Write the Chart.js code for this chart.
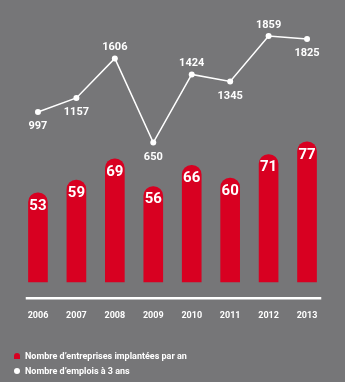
<!DOCTYPE html>
<html><head><meta charset="utf-8">
<script src="https://cdn.jsdelivr.net/npm/chart.js@4.4.1/dist/chart.umd.min.js"></script>
<style>
html,body{margin:0;padding:0;background:#767678;}
#wrap{position:relative;width:345px;height:382px;background:#767678;overflow:hidden;}
#c{position:absolute;left:0;top:0;}
#legend{position:absolute;left:14px;top:348px;font:bold 9px Roboto, sans-serif;color:#fff;}
.item{display:flex;align-items:center;height:15px;white-space:nowrap;}
.mk{width:6px;height:6px;margin-right:5px;flex:none;}
</style></head><body>
<div id="wrap"><canvas id="c" width="345" height="382"></canvas><div id="legend"></div></div>
<script>
const categories = ['2006','2007','2008','2009','2010','2011','2012','2013'];
const companies = [53, 59, 69, 56, 66, 60, 71, 77];
const jobs = [997, 1157, 1606, 650, 1424, 1345, 1859, 1825];
const seriesNames = ["Nombre d’entreprises implantées par an", "Nombre d’emplois à 3 ans"];
const jobLabelSide = ['below','below','above','below','above','below','above','below'];

const RED = '#d80021';
const WHITE = '#ffffff';
const FONT = 'Roboto, sans-serif';

const labelsPlugin = {
  id: 'valueLabels',
  afterDatasetsDraw(chart) {
    const ctx = chart.ctx;
    ctx.save();
    ctx.fillStyle = WHITE;
    ctx.textAlign = 'center';
    ctx.textBaseline = 'middle';
    // bar labels
    const barMeta = chart.getDatasetMeta(1);
    ctx.font = 'bold 15px ' + FONT;
    barMeta.data.forEach((el, i) => {
      ctx.fillText(String(companies[i]), el.x, el.y + 13);
    });
    // line labels
    const lineMeta = chart.getDatasetMeta(0);
    ctx.font = 'bold 11px ' + FONT;
    lineMeta.data.forEach((el, i) => {
      const dy = jobLabelSide[i] === 'above' ? -11 : 14.5;
      ctx.fillText(String(jobs[i]), el.x, el.y + dy);
    });
    // baseline
    const a = chart.chartArea;
    ctx.strokeStyle = WHITE;
    ctx.lineWidth = 2.5;
    ctx.beginPath();
    ctx.moveTo(a.left + 7, a.bottom + 16);
    ctx.lineTo(a.right - 5, a.bottom + 16);
    ctx.stroke();
    ctx.restore();
  }
};

const chart = new Chart(document.getElementById('c'), {
  type: 'bar',
  data: {
    labels: categories,
    datasets: [
      {
        type: 'line',
        label: seriesNames[1],
        data: jobs,
        yAxisID: 'y1',
        borderColor: WHITE,
        borderWidth: 1.5,
        pointRadius: 3,
        pointBackgroundColor: WHITE,
        pointBorderWidth: 0,
        tension: 0,
        order: 0
      },
      {
        type: 'bar',
        label: seriesNames[0],
        data: companies,
        yAxisID: 'y',
        backgroundColor: RED,
        barThickness: 19,
        borderRadius: {topLeft: 10, topRight: 10, bottomLeft: 0, bottomRight: 0},
        borderSkipped: 'start',
        order: 1
      }
    ]
  },
  options: {
    responsive: false,
    animation: false,
    events: [],
    layout: {padding: {top: 20, left: 6.75, right: 6.25, bottom: 33}},
    plugins: {legend: {display: false}, tooltip: {enabled: false}},
    scales: {
      x: {
        grid: {display: false, drawTicks: false},
        border: {display: false},
        ticks: {color: WHITE, font: {family: FONT, size: 9, weight: 'bold'}, padding: 28, maxRotation: 0}
      },
      y: {display: false, min: 11, max: 134.3},
      y1: {display: false, min: -935, max: 2042}
    }
  },
  plugins: [labelsPlugin]
});

const legend = document.getElementById('legend');
[{name: seriesNames[0], color: RED, radius: '3px 3px 0 0'}, {name: seriesNames[1], color: WHITE, radius: '50%'}].forEach(it => {
  const row = document.createElement('div');
  row.className = 'item';
  const mk = document.createElement('span');
  mk.className = 'mk';
  mk.style.background = it.color;
  mk.style.borderRadius = it.radius;
  const tx = document.createElement('span');
  tx.textContent = it.name;
  row.appendChild(mk); row.appendChild(tx);
  legend.appendChild(row);
});
</script>
</body></html>
